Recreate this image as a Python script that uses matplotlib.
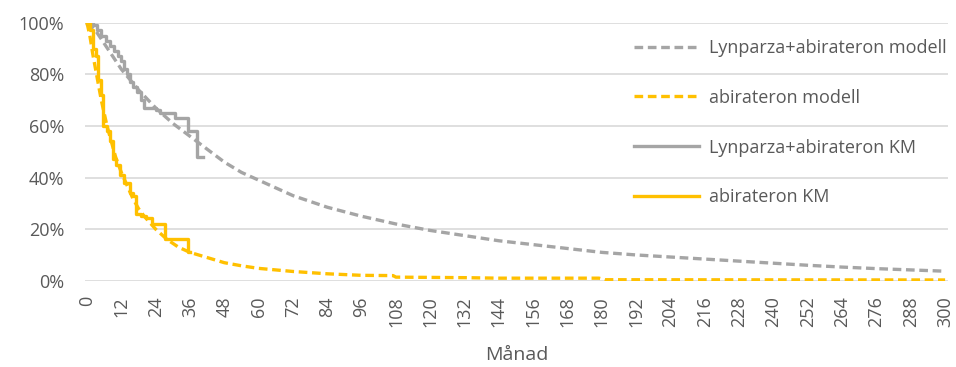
import matplotlib
matplotlib.use("Agg")
import matplotlib.pyplot as plt
from matplotlib.ticker import FuncFormatter

# ---- data ----
x_ticks = list(range(0, 301, 12))
y_ticks = [0, 0.2, 0.4, 0.6, 0.8, 1.0]

lyn_model_t = [0, 3, 6, 9, 12, 18, 24, 30, 36, 42, 48, 54, 60, 66, 72, 84, 96, 108,
               120, 132, 144, 156, 168, 180, 192, 204, 216, 228, 240, 252, 264, 276, 288, 300]
lyn_model_s = [1.00, 0.97, 0.92, 0.87, 0.82, 0.74, 0.67, 0.61, 0.56, 0.51, 0.46, 0.42, 0.39,
               0.36, 0.33, 0.285, 0.25, 0.22, 0.195, 0.175, 0.155, 0.14, 0.125, 0.11, 0.10,
               0.092, 0.084, 0.076, 0.068, 0.060, 0.053, 0.047, 0.042, 0.037]

abi_model_t = [0, 1, 2, 3, 4, 5, 6, 7, 8, 9, 10, 12, 14, 16, 18, 20, 24, 28, 32, 36, 42,
               48, 54, 60, 72, 84, 96, 107, 108, 132, 144, 179, 181, 300]
abi_model_s = [1.00, 0.95, 0.88, 0.82, 0.76, 0.70, 0.65, 0.60, 0.56, 0.52, 0.48, 0.42, 0.37,
               0.32, 0.28, 0.25, 0.20, 0.16, 0.13, 0.11, 0.09, 0.07, 0.058, 0.048, 0.036,
               0.027, 0.021, 0.020, 0.014, 0.012, 0.010, 0.010, 0.004, 0.003]

lyn_km_t = [0, 2, 3.5, 5, 6.5, 8, 9.5, 11, 12, 13, 14, 15, 16, 17.5, 19, 20, 24, 25.5,
            30.8, 35.4, 38.3, 40.7]
lyn_km_s = [1.00, 0.99, 0.97, 0.95, 0.93, 0.91, 0.89, 0.87, 0.85, 0.82, 0.80, 0.77, 0.75,
            0.73, 0.70, 0.67, 0.66, 0.65, 0.63, 0.58, 0.48, 0.48]

abi_km_t = [0, 1, 2, 3, 4, 5, 5.7, 7, 8, 9, 10, 11.5, 13, 15, 16.2, 17.3, 19, 20.8,
            22.6, 27.3, 35.4, 36]
abi_km_s = [1.00, 0.97, 0.90, 0.87, 0.78, 0.72, 0.60, 0.58, 0.54, 0.47, 0.45, 0.41, 0.38,
            0.34, 0.33, 0.26, 0.25, 0.245, 0.22, 0.16, 0.11, 0.11]

labels = ["Lynparza+abirateron modell", "abirateron modell",
          "Lynparza+abirateron KM", "abirateron KM"]

GRAY = "#a5a5a5"
YELLOW = "#ffc000"
TXT = "#595959"

plt.rcParams['font.family'] = ['Open Sans', 'DejaVu Sans']

fig = plt.figure(figsize=(9.56, 3.67), dpi=100)
ax = fig.add_axes([0.0889, 0.235, 0.9027, 0.703])

lw = 2.4
dash = (2.6, 1.4)
l1, = ax.plot(lyn_model_t, lyn_model_s, color=GRAY, lw=lw, dashes=dash)
l2, = ax.plot(abi_model_t, abi_model_s, color=YELLOW, lw=lw, dashes=dash)
l3, = ax.plot(lyn_km_t, lyn_km_s, color=GRAY, lw=lw, drawstyle='steps-post')
l4, = ax.plot(abi_km_t, abi_km_s, color=YELLOW, lw=lw, drawstyle='steps-post')

ax.set_xlim(-0.7, 301)
ax.set_ylim(0, 1.0)
ax.set_xticks(x_ticks)
ax.set_xticklabels([str(v) for v in x_ticks], rotation=90)
ax.set_yticks(y_ticks)
ax.yaxis.set_major_formatter(FuncFormatter(lambda v, p: f"{v*100:.0f}%"))
ax.tick_params(axis='both', length=0, labelsize=13, labelcolor=TXT)
ax.tick_params(axis='y', pad=15)
ax.tick_params(axis='x', pad=11)
ax.grid(axis='y', color='#d9d9d9', lw=1.2)
ax.set_axisbelow(True)
for s in ax.spines.values():
    s.set_visible(False)

fig.text(0.5403, 0.033, "Månad", ha='center', va='center', fontsize=14, color=TXT)

leg = ax.legend([l1, l2, l3, l4], labels, loc='upper left',
                bbox_to_anchor=(634 / 956, 1 - 39 / 367), bbox_transform=fig.transFigure,
                frameon=False, fontsize=13, handlelength=3.6, handletextpad=0.55,
                labelspacing=1.76, borderpad=0, borderaxespad=0)
for t in leg.get_texts():
    t.set_color(TXT)

fig.savefig("out.png", dpi=100)
